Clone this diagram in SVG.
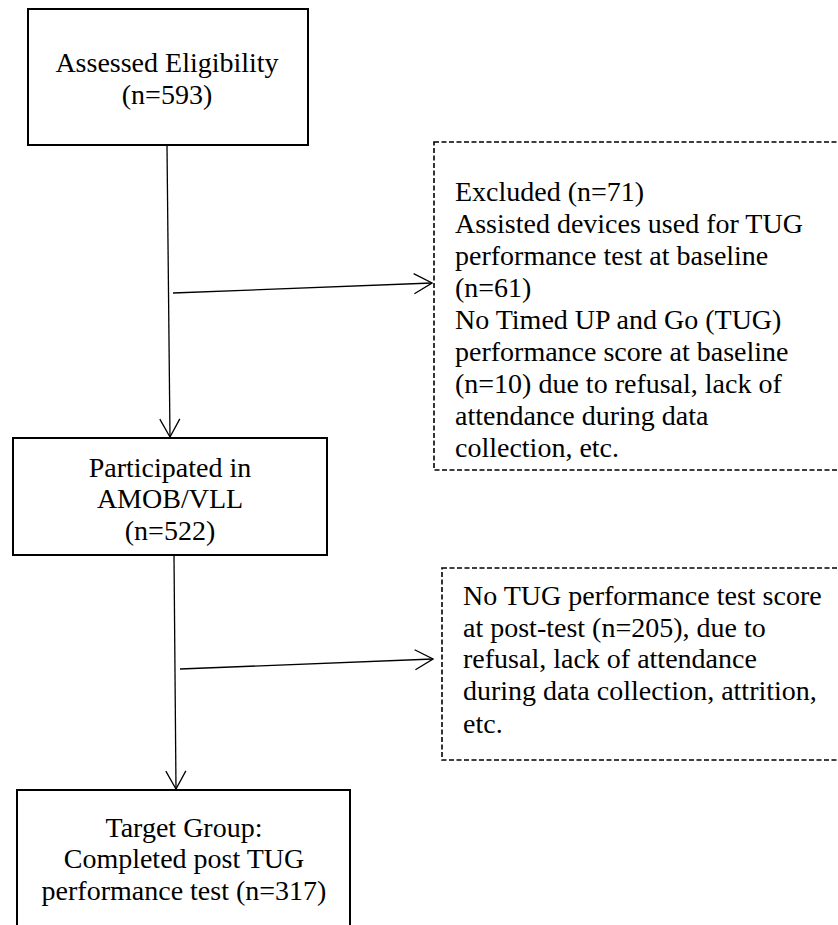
<svg xmlns="http://www.w3.org/2000/svg" width="838" height="925" viewBox="0 0 838 925">
  <style>
    .box { fill: #fff; stroke: #000; stroke-width: 2; }
    .dash { fill: #fff; stroke: #000; stroke-width: 1.6; stroke-dasharray: 5 2.5; }
    .conn { fill: none; stroke: #000; stroke-width: 1.3; }
  </style>
  <defs>
    <marker id="open" viewBox="0 0 20 22" refX="19" refY="11" markerWidth="20" markerHeight="22" markerUnits="userSpaceOnUse" orient="auto">
      <path d="M1,1 L19,11 L1,21" fill="none" stroke="#000" stroke-width="1.3"/>
    </marker>
  </defs>

  <g id="connectors">
    <line class="conn" x1="167" y1="146" x2="170" y2="437" marker-end="url(#open)"/>
    <line class="conn" x1="173" y1="293" x2="432" y2="283" marker-end="url(#open)"/>
    <line class="conn" x1="174" y1="556" x2="176" y2="789" marker-end="url(#open)"/>
    <line class="conn" x1="180" y1="669" x2="433" y2="659" marker-end="url(#open)"/>
  </g>

  <g font-family="'Liberation Serif', 'Times New Roman', 'DejaVu Serif', serif" font-size="28" fill="#000">
    <g id="assessed" text-anchor="middle">
      <rect class="box" x="28" y="9" width="280" height="136"/>
      <text x="167" y="72">Assessed Eligibility</text>
      <text x="167" y="104">(n=593)</text>
    </g>

    <g id="excluded">
      <rect class="dash" x="434" y="142" width="420" height="328"/>
      <text x="455" y="201">Excluded (n=71)</text>
      <text x="455" y="233">Assisted devices used for TUG</text>
      <text x="455" y="265">performance test at baseline</text>
      <text x="455" y="297">(n=61)</text>
      <text x="455" y="329">No Timed UP and Go (TUG)</text>
      <text x="455" y="361">performance score at baseline</text>
      <text x="455" y="393">(n=10) due to refusal, lack of</text>
      <text x="455" y="425">attendance during data</text>
      <text x="455" y="457">collection, etc.</text>
    </g>

    <g id="participated" text-anchor="middle">
      <rect class="box" x="13" y="438" width="314" height="117"/>
      <text x="170" y="477">Participated in</text>
      <text x="170" y="508">AMOB/VLL</text>
      <text x="170" y="540">(n=522)</text>
    </g>

    <g id="no-posttest">
      <rect class="dash" x="442" y="568" width="420" height="192"/>
      <text x="463" y="605">No TUG performance test score</text>
      <text x="463" y="637">at post-test (n=205), due to</text>
      <text x="463" y="668">refusal, lack of attendance</text>
      <text x="463" y="700">during data collection, attrition,</text>
      <text x="463" y="733">etc.</text>
    </g>

    <g id="target" text-anchor="middle">
      <rect class="box" x="17" y="790" width="333" height="150"/>
      <text x="184" y="837">Target Group:</text>
      <text x="184" y="868">Completed post TUG</text>
      <text x="184" y="900">performance test (n=317)</text>
    </g>
  </g>
</svg>
